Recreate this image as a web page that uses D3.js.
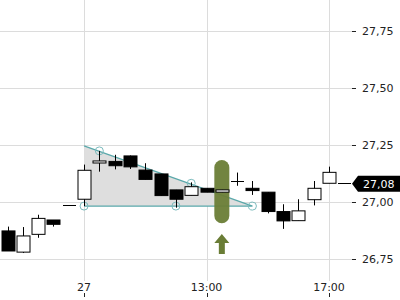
<!DOCTYPE html>
<html><head><meta charset="utf-8">
<script src="https://cdn.jsdelivr.net/npm/d3@7"></script>
<style>html,body{margin:0;padding:0;background:#fff;}svg{display:block;font-family:"DejaVu Sans",sans-serif;}</style>
</head><body><svg id="c" width="400" height="300"></svg>
<script>
// ---- data ----
const opens  = [26.873,26.780,26.858,26.921,26.988,27.012,27.171,27.178,27.202,27.140,27.123,27.053,27.029,27.060,27.043,27.092,27.060,27.043,26.958,26.918,27.010,27.082,27.082];
const highs  = [26.892,26.890,26.944,26.921,26.988,27.164,27.224,27.207,27.204,27.170,27.123,27.053,27.086,27.060,27.053,27.129,27.092,27.043,26.990,27.012,27.092,27.155,27.082];
const lows   = [26.785,26.776,26.843,26.892,26.988,26.982,27.133,27.143,27.145,27.099,27.028,26.975,27.029,27.043,27.043,27.071,27.031,26.950,26.882,26.918,26.985,27.082,27.082];
const closes = [26.785,26.851,26.928,26.902,26.988,27.139,27.180,27.159,27.154,27.099,27.028,27.012,27.067,27.043,27.053,27.092,27.050,26.958,26.917,26.961,27.060,27.130,27.082];
const xTickIdx = [5,13,21];
const xTickLabels = ["27","13:00","17:00"];
const yTicks = [26.75,27.00,27.25,27.50,27.75];
const trianglePts = [[5,27.246],[16,26.982],[5,26.982]];
const pivotIdx = [5,6,11,12,16];
const pivotVal = [26.982,27.224,26.982,27.082,26.982];
const signalIdx = 14, signalTop = 27.184, signalBottom = 26.907;
const arrowTop = 26.860, arrowBottom = 26.772;
const lastPrice = 27.08;

const fmt = v => d3.format(".2f")(v).replace(".", ",");
const svg = d3.select("#c");
const x = d3.scaleLinear().domain([0,21]).range([7.5,329]);
const y = d3.scaleLinear().domain([26.57,27.886]).range([300,0]);
const bw = 13;

// gridlines
svg.append("g").selectAll("line").data(yTicks).join("line")
  .attr("x1",0).attr("x2",352).attr("y1",d=>Math.round(y(d))+0.5).attr("y2",d=>Math.round(y(d))+0.5)
  .attr("stroke","#dcdcdc");
svg.append("g").selectAll("line").data(xTickIdx).join("line")
  .attr("x1",d=>Math.round(x(d))+0.5).attr("x2",d=>Math.round(x(d))+0.5).attr("y1",0).attr("y2",281)
  .attr("stroke","#dcdcdc");

// y axis
const ya = svg.append("g");
ya.selectAll("line").data(yTicks).join("line")
  .attr("x1",352).attr("x2",356).attr("y1",d=>Math.round(y(d))+0.5).attr("y2",d=>Math.round(y(d))+0.5)
  .attr("stroke","#222");
ya.selectAll("text").data(yTicks).join("text")
  .attr("x",362).attr("y",d=>y(d)).attr("dy","0.36em").attr("font-size",11).attr("fill","#222")
  .text(fmt);
// x axis
const xa = svg.append("g");
xa.selectAll("line").data(xTickIdx).join("line")
  .attr("x1",d=>Math.round(x(d))+0.5).attr("x2",d=>Math.round(x(d))+0.5).attr("y1",293).attr("y2",297)
  .attr("stroke","#222");
xa.selectAll("text").data(xTickIdx).join("text")
  .attr("x",d=>x(d)).attr("y",290.5).attr("text-anchor","middle").attr("font-size",11).attr("fill","#222")
  .text((d,i)=>xTickLabels[i]);

// triangle pattern
svg.append("path")
  .attr("d", d3.line().x(p=>x(p[0])).y(p=>y(p[1]))(trianglePts)+"Z")
  .attr("fill","#dedede").attr("stroke","none");
svg.append("path")
  .attr("d", d3.line().x(p=>x(p[0])).y(p=>y(p[1]))(trianglePts))
  .attr("fill","none").attr("stroke","#5aa8aa").attr("stroke-width",1.2);
svg.append("g").selectAll("circle").data(pivotIdx).join("circle")
  .attr("cx",d=>x(d)).attr("cy",(d,i)=>y(pivotVal[i])).attr("r",4)
  .attr("fill","none").attr("stroke","#7dbcbe").attr("stroke-width",1);

// signal pill + arrow
svg.append("rect")
  .attr("x",x(signalIdx)-7.5).attr("width",15)
  .attr("y",y(signalTop)).attr("height",y(signalBottom)-y(signalTop))
  .attr("rx",7.5).attr("fill","#6a7d36").attr("opacity",0.95);
const ax = x(signalIdx), at = y(arrowTop), ab = y(arrowBottom);
svg.append("path")
  .attr("d",`M${ax},${at}L${ax+7.5},${at+9}L${ax+3},${at+9}L${ax+3},${ab}L${ax-3},${ab}L${ax-3},${at+9}L${ax-7.5},${at+9}Z`)
  .attr("fill","#6a7d36");

// candles
const idx = d3.range(opens.length);
const cg = svg.append("g");
idx.forEach(i=>{
  const cx = Math.round(x(i))+0.5;
  const o=opens[i], c=closes[i], h=highs[i], l=lows[i];
  if (h>l) cg.append("line").attr("x1",cx).attr("x2",cx).attr("y1",y(h)).attr("y2",y(l)).attr("stroke","#000");
  if (o===c) {
    cg.append("line").attr("x1",cx-bw/2).attr("x2",cx+bw/2).attr("y1",Math.round(y(o))+0.5).attr("y2",Math.round(y(o))+0.5).attr("stroke","#000");
  } else {
    const top = y(Math.max(o,c)), bot = y(Math.min(o,c));
    cg.append("rect").attr("x",cx-bw/2).attr("width",bw)
      .attr("y",top).attr("height",Math.max(1,bot-top))
      .attr("fill", c>o ? "#fff" : "#000").attr("stroke","#000").attr("stroke-width",1);
  }
});

// last price label
const ly = y(lastPrice);
svg.append("path")
  .attr("d",`M352,${ly}L358,${ly-8}L400,${ly-8}L400,${ly+8}L358,${ly+8}Z`)
  .attr("fill","#000");
svg.append("text").attr("x",363).attr("y",ly).attr("dy","0.36em").attr("font-size",11).attr("fill","#fff")
  .text(fmt(lastPrice));
</script></body></html>
